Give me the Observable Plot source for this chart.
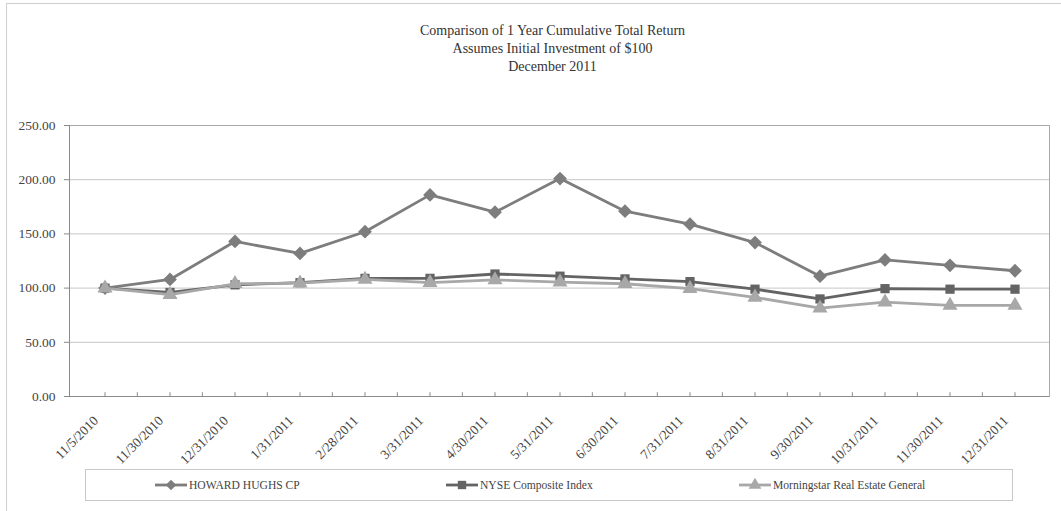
<!DOCTYPE html>
<html>
<head>
<meta charset="utf-8">
<script src="https://cdn.jsdelivr.net/npm/d3@7"></script>
<script src="https://cdn.jsdelivr.net/npm/@observablehq/plot@0.6"></script>
<style>
  html, body { margin: 0; padding: 0; background: #fff; overflow: hidden; width: 1061px; height: 511px; }
  body { position: relative; font-family: "Liberation Serif", "Times New Roman", serif; color: #333; }
  #frame { position: absolute; left: 6px; top: 3px; width: 1100px; height: 600px; border: 1px solid #cfcfcf; box-sizing: border-box; }
  #title { position: absolute; left: 0; top: 22px; width: 1105px; text-align: center; font-size: 14px; line-height: 18px; color: #333; }
  #chart { position: absolute; left: 0; top: 100px; }
  #legend { position: absolute; left: 85px; top: 469px; width: 928px; height: 32px; border: 1px solid #c8c8c8; box-sizing: border-box; background: #fff; }
  .item { position: absolute; top: 0; height: 30px; display: flex; align-items: center; font-size: 11.6px; color: #444; white-space: nowrap; }
  .item svg { margin-right: 2px; }
</style>
</head>
<body>
<div id="frame"></div>
<div id="title">Comparison of 1 Year Cumulative Total Return<br>Assumes Initial Investment of $100<br>December 2011</div>
<div id="chart"></div>
<div id="legend"></div>
<script>
const dates = ["11/5/2010","11/30/2010","12/31/2010","1/31/2011","2/28/2011","3/31/2011","4/30/2011","5/31/2011","6/30/2011","7/31/2011","8/31/2011","9/30/2011","10/31/2011","11/30/2011","12/31/2011"];
const hhc  = [100, 108, 143, 132, 152, 186, 170, 201, 171, 159, 142, 111, 126, 121, 116];
const nyse = [100, 96, 103, 105, 109, 109, 113, 111, 108.5, 106, 99, 90, 99.5, 99, 99];
const morn = [100, 94, 104, 104.5, 108, 105, 107.5, 105.5, 104, 99.5, 91.5, 81.5, 87, 84, 84];
const yTicks = [0, 50, 100, 150, 200, 250];
const seriesNames = ["HOWARD HUGHS CP", "NYSE Composite Index", "Morningstar Real Estate General"];
const seriesColors = ["#7d7d7d", "#646464", "#a8a8a8"];
const seriesSymbols = ["diamond2", "square", "triangle"];

const toRows = vals => dates.map((d, i) => ({date: d, value: vals[i]}));
const series = [toRows(hhc), toRows(nyse), toRows(morn)];

const W = 1061, ML = 69, MR = 12;
const bw = (W - ML - MR) / dates.length;

const marks = [
  Plot.gridY(yTicks.slice(1), {stroke: "#c6c6c6", strokeOpacity: 1}),
  Plot.frame({stroke: "#a9a9a9"}),
  Plot.ruleY([0], {stroke: "#8a8a8a"}),
  Plot.frame({anchor: "left", stroke: "#8a8a8a"}),
  Plot.ruleX(dates, {y1: 0, y2: 3.5, stroke: "#8a8a8a"}),
  Plot.ruleX(dates.slice(1), {y1: 0, y2: 3.5, stroke: "#8a8a8a", dx: -bw / 2}),
  Plot.axisY({ticks: yTicks, tickFormat: d => d.toFixed(2), tickSize: 5, tickPadding: 9, stroke: "#8a8a8a", fill: "#444", fontSize: 13.5}),
  Plot.axisX({tickRotate: -45, tickSize: 0, tickPadding: 22, dx: -9, fill: "#444", fontSize: 13.5})
];
const radii = [6.2, 5.2, 5.6];
series.forEach((rows, k) => {
  marks.push(Plot.line(rows, {x: "date", y: "value", stroke: seriesColors[k], strokeWidth: 2.8}));
  marks.push(Plot.dot(rows, {x: "date", y: "value", fill: seriesColors[k], symbol: seriesSymbols[k], r: radii[k], stroke: "none"}));
});

const chart = Plot.plot({
  width: W, height: 395,
  marginLeft: ML, marginRight: MR, marginTop: 25, marginBottom: 99,
  x: {type: "band", domain: dates, padding: 0, label: null},
  y: {domain: [0, 250], label: null},
  style: {fontFamily: "'Liberation Serif', 'Times New Roman', serif", fontSize: "13.5px", background: "transparent", color: "#444", overflow: "visible"},
  marks
});
document.getElementById("chart").appendChild(chart);

// legend
const legendPos = [69, 360, 653];
const legend = document.getElementById("legend");
seriesNames.forEach((name, k) => {
  const item = document.createElement("div");
  item.className = "item";
  item.style.left = legendPos[k] + "px";
  const sym = d3.symbol(d3[{diamond2: "symbolDiamond2", square: "symbolSquare", triangle: "symbolTriangle"}[seriesSymbols[k]]], 70)();
  item.innerHTML = `<svg width="32" height="14" viewBox="0 0 32 14"><line x1="0" x2="32" y1="7" y2="7" stroke="${seriesColors[k]}" stroke-width="2.8"/><path transform="translate(16,7)" d="${sym}" fill="${seriesColors[k]}"/></svg><span>${name}</span>`;
  legend.appendChild(item);
});
</script>
</body>
</html>
